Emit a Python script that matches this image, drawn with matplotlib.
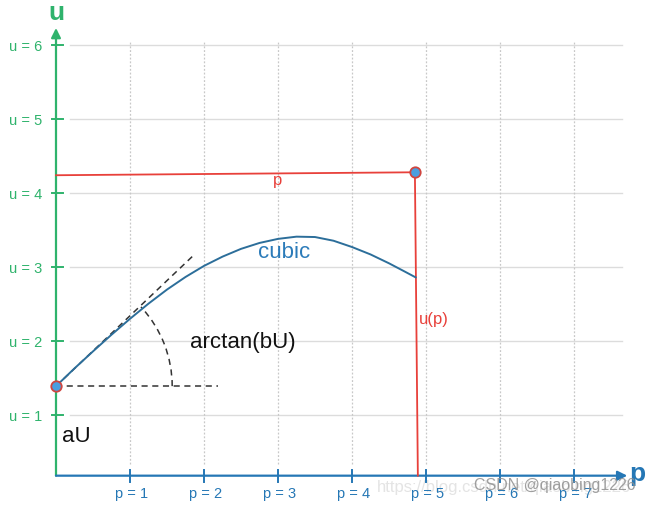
import numpy as np
import matplotlib
matplotlib.use("Agg")
import matplotlib.pyplot as plt
from matplotlib.patches import Arc

plt.rcParams['font.family'] = ['Liberation Sans', 'DejaVu Sans']

# values
p_ticks = [1, 2, 3, 4, 5, 6, 7]
u_ticks = [1, 2, 3, 4, 5, 6]
p_labels = ["p = %d" % v for v in p_ticks]
u_labels = ["u = %d" % v for v in u_ticks]

cubic_p = [0.0, 0.25, 0.5, 0.75, 1.0, 1.25, 1.5, 1.75, 2.0, 2.25, 2.5, 2.75, 3.0,
           3.25, 3.5, 3.75, 4.0, 4.25, 4.5, 4.7, 4.86]
cubic_u = [1.39, 1.63, 1.86, 2.085, 2.30, 2.505, 2.695, 2.865, 3.015, 3.14, 3.245, 3.325, 3.38,
           3.41, 3.405, 3.355, 3.27, 3.17, 3.05, 2.945, 2.86]

start_pt = (0.0, 1.39)
end_pt = (4.85, 4.28)
p_line_left_u = 4.24
up_line_bottom_p = 4.89
tangent_end = (1.84, 3.14)
horiz_end_p = 2.19
arc_radius = 1.57
arc_angle = 43

axis_u = 0.18   # where the p axis sits
green = '#2fb36c'
blue = '#2577b5'
red = '#e8403a'
curve_col = '#2c6e9a'

fig = plt.figure(figsize=(6.57, 5.06), dpi=100)
ax = fig.add_axes([0, 0, 1, 1])
ax.set_xlim(-56 / 74, 601 / 74)
ax.set_ylim(-16 / 74, 490 / 74)
ax.axis('off')

# grid
for u in u_ticks:
    ax.plot([0.19, 7.65], [u, u], color='#dcdcdc', lw=1, zorder=1)
for p in p_ticks:
    ax.plot([p, p], [0.34, 6.05], color='#c8c8c8', lw=0.9, ls=(0, (1.5, 1.5)), zorder=1)

# axes with arrows
ax.annotate('', xy=(0, 6.23), xytext=(0, axis_u),
            arrowprops=dict(arrowstyle='-|>', color=green, lw=1.6, mutation_scale=14, shrinkA=0, shrinkB=0))
ax.annotate('', xy=(7.72, axis_u), xytext=(0, axis_u),
            arrowprops=dict(arrowstyle='-|>', color=blue, lw=1.6, mutation_scale=14, shrinkA=0, shrinkB=0))
ax.text(0, 6.45, 'u', color=green, fontsize=19, fontweight='bold', ha='center', va='center')
ax.text(7.85, 0.22, 'p', color=blue, fontsize=19, fontweight='bold', ha='center', va='center')

for u, lab in zip(u_ticks, u_labels):
    ax.plot([-0.06, 0.09], [u, u], color=green, lw=1.4)
    ax.text(-0.19, u - 0.02, lab, color=green, fontsize=10.5, ha='right', va='center')
for p, lab in zip(p_ticks, p_labels):
    ax.plot([p, p], [axis_u - 0.08, axis_u + 0.08], color=blue, lw=1.4)
    ax.text(p + 0.02, -0.05, lab, color=blue, fontsize=10.5, ha='center', va='center')

# red lines
ax.plot([0, end_pt[0]], [p_line_left_u, end_pt[1]], color=red, lw=1.3, zorder=3)
ax.plot([end_pt[0], up_line_bottom_p], [end_pt[1], axis_u], color=red, lw=1.3, zorder=3)
ax.text(2.99, 4.18, 'p', color=red, fontsize=12, ha='center', va='center')
ax.text(4.91, 2.3, 'u(p)', color=red, fontsize=12, ha='left', va='center')

# cubic
ax.plot(cubic_p, cubic_u, color=curve_col, lw=1.4, zorder=4, solid_joinstyle='round')
ax.text(3.08, 3.21, 'cubic', color='#2b7bb9', fontsize=16, ha='center', va='center')

# tangent, horizontal and angle arc
ax.plot([start_pt[0], tangent_end[0]], [start_pt[1], tangent_end[1]],
        color='#333333', lw=1.1, ls=(0, (4, 3)), zorder=3)
ax.plot([start_pt[0], horiz_end_p], [start_pt[1], start_pt[1]],
        color='#333333', lw=1.1, ls=(0, (4, 3)), zorder=3)
ax.add_patch(Arc(start_pt, 2 * arc_radius, 2 * arc_radius, theta1=0, theta2=arc_angle,
                 color='#333333', lw=1.1, ls=(0, (4, 3))))
ax.text(2.52, 1.99, 'arctan(bU)', color='#111111', fontsize=16, ha='center', va='center')
ax.text(0.08, 0.72, 'aU', color='#111111', fontsize=16, ha='left', va='center')

# points
for pt in [start_pt, end_pt]:
    ax.plot(pt[0], pt[1], 'o', ms=7.5, mfc='#4a9fe0', mec='#d0453f', mew=1.3, zorder=6)

# watermark
ax.text(4.34, 0.04, 'https://blog.csdn.net/qiaobing1226', color='#e4e4e4', fontsize=12,
        ha='left', va='center', zorder=0)
ax.text(6.74, 0.06, 'CSDN @qiaobing1226', color='#8f8f8f', fontsize=11.5,
        ha='center', va='center', alpha=0.85)

fig.savefig('out.png', dpi=100)
